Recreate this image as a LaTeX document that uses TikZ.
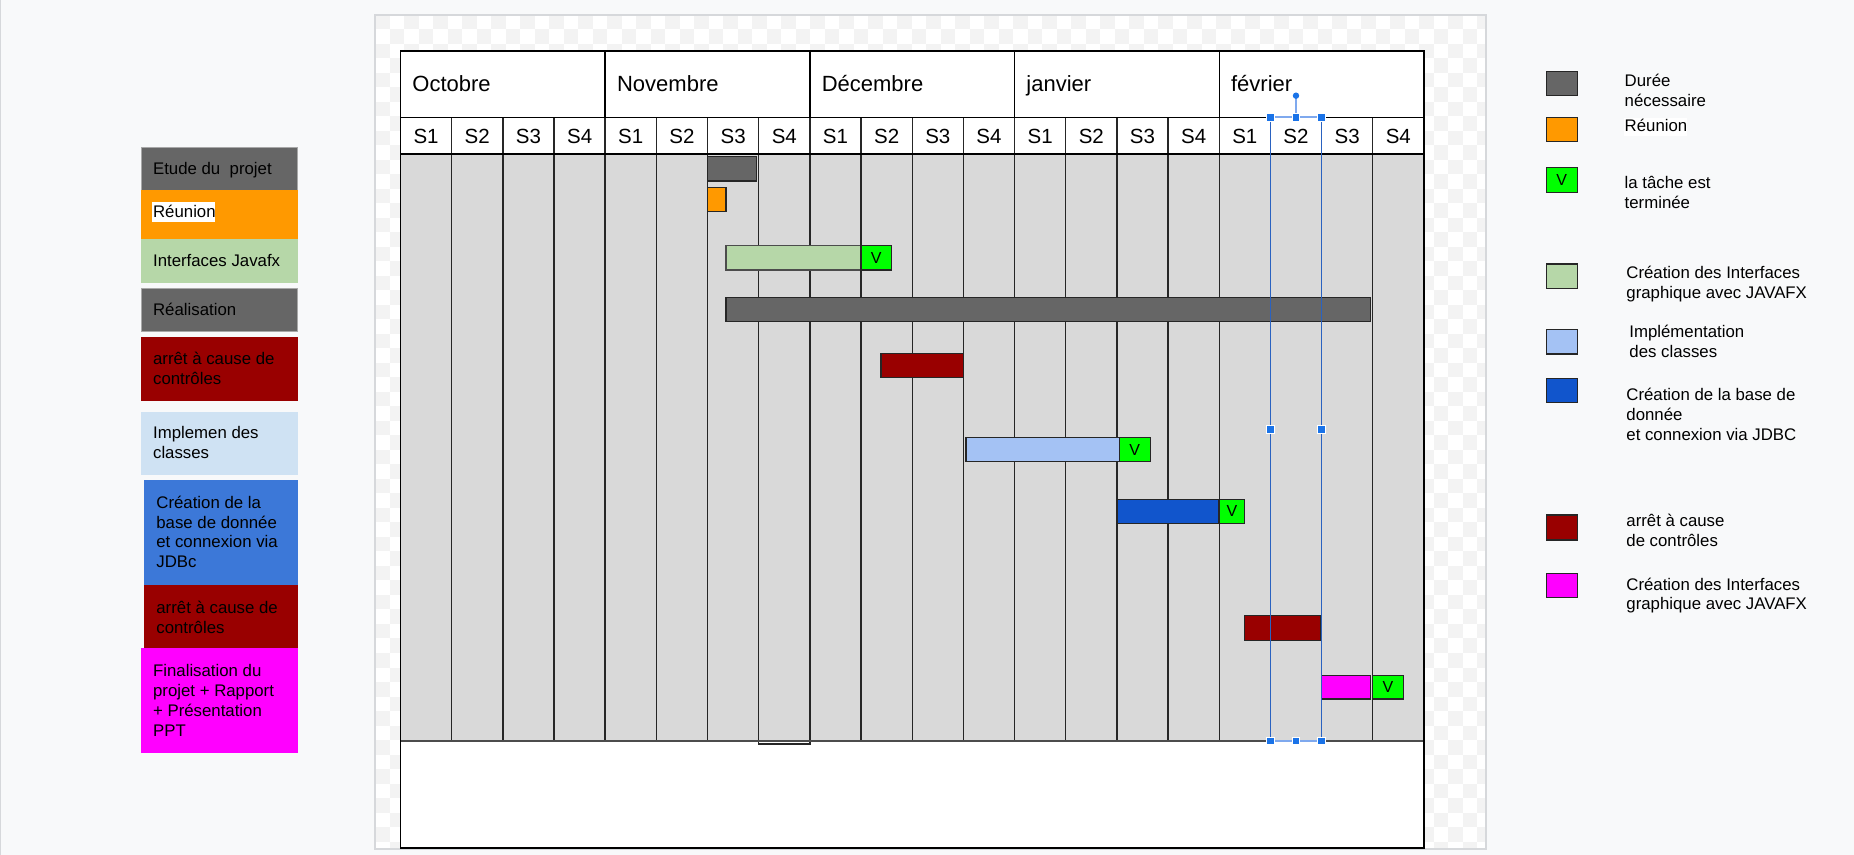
\documentclass[tikz,border=0pt]{standalone}
\usepackage{fontspec}
\setmainfont{Liberation Sans}
\definecolor{bgc}{HTML}{F8F9FA}
\definecolor{checkc}{HTML}{F3F3F3}
\definecolor{panelc}{HTML}{D6D8DB}
\definecolor{cellgray}{HTML}{D9D9D9}
\definecolor{dgray}{HTML}{666666}
\definecolor{orangec}{HTML}{FF9900}
\definecolor{lgreen}{HTML}{B6D7A8}
\definecolor{dred}{HTML}{990000}
\definecolor{lblue}{HTML}{CFE2F3}
\definecolor{mblue}{HTML}{3C78D8}
\definecolor{barblue}{HTML}{A4C2F4}
\definecolor{dblue}{HTML}{1155CC}
\definecolor{magc}{HTML}{FF00FF}
\definecolor{vgreen}{HTML}{00FF00}
\definecolor{selc}{HTML}{1A73E8}
\definecolor{sellinec}{HTML}{2A62C0}
\definecolor{selbarc}{HTML}{7FA9EE}
\definecolor{boxedge}{HTML}{A8A8A8}
\tikzset{
  gridline/.style={draw=black!85, line width=0.7pt},
  hdrline/.style={draw=black, line width=0.7pt},
  barbox/.style={draw=black!85, line width=0.7pt},
  monthlbl/.style={anchor=base west, inner sep=0pt, font=\fontsize{11}{13}\selectfont},
  weeklbl/.style={anchor=base, inner sep=0pt, font=\fontsize{10.25}{12}\selectfont},
  legtxt/.style={anchor=base west, inner sep=0pt, font=\fontsize{8.4}{9.9}\selectfont},
  vlbl/.style={inner sep=0pt, font=\fontsize{8}{9}\selectfont},
  handle/.style={fill=selc, draw=white, line width=0.4pt},
  edgedbox/.style={draw=boxedge, line width=0.5pt},
}
\newcommand{\tl}[1]{\begin{tabular}[t]{@{}l@{}}#1\end{tabular}}
\begin{document}
\begin{tikzpicture}[x=0.5pt,y=-0.5pt]
\useasboundingbox (0,0) rectangle (1854,855);
\fill[bgc] (0,0) rectangle (1854,855);
\draw[panelc, line width=0.6pt] (0.6,0) -- (0.6,855);
% panel with checkerboard
\fill[white] (375,15) rectangle (1486,849);
\begin{scope}
\clip (375,15) rectangle (1486,849);
\foreach \r in {0,...,57}{
  \pgfmathsetmacro\ph{mod(\r,2)*7.25}
  \pgfmathsetmacro\yy{22.25+\r*14.5}
  \draw[checkc, line width=7.25pt, dash pattern=on 7.25pt off 7.25pt, dash phase=\ph pt] (375,\yy) -- (1486,\yy);
}
\end{scope}
\draw[panelc, line width=0.6pt] (375,15) rectangle (1486,849);

% table
\fill[white] (400.5,50.7) rectangle (1424,154);
\fill[cellgray] (400.5,154) rectangle (1424,741);
\fill[white] (400.5,741) rectangle (1424,848.3);
\foreach \k in {1,...,19}{
  \pgfmathsetmacro\xx{400.5+51.17*\k}
  \draw[gridline] (\xx,117.3) -- (\xx,741);
}
\draw[gridline] (758.7,154) rectangle (809.9,744);
\foreach \k in {4,8,12,16}{
  \pgfmathsetmacro\xx{400.5+51.17*\k}
  \draw[hdrline] (\xx,50.7) -- (\xx,117.3);
}
\draw[hdrline] (400.5,117.3) -- (1424,117.3);
\draw[hdrline] (400.5,154) -- (1424,154);
\draw[draw=black!70, line width=0.7pt] (400.5,741) -- (1424,741);
\draw[hdrline, line width=0.9pt] (400.5,50.7) rectangle (1424,848.3);

% month labels
\node[monthlbl] (m1) at (412,91.7) {Octobre};
\node[monthlbl] (m2) at (616.7,91.7) {Novembre};
\node[monthlbl] (m3) at (821.4,91.7) {Décembre};
\node[monthlbl] (m4) at (1026,91.7) {janvier};
\node[monthlbl] (m5) at (1230.7,91.7) {février};
% week labels
\foreach \k in {0,...,19}{
  \pgfmathsetmacro\xx{400.5+51.17*\k+25.6}
  \pgfmathtruncatemacro\w{mod(\k,4)+1}
  \node[weeklbl] (w\k) at (\xx,143.3) {S\w};
}

% bars
\draw[barbox, fill=dgray] (707.5,156.7) rectangle (756.7,181);
\draw[barbox, fill=orangec] (707.5,187.3) rectangle (725.9,211.3);
\draw[barbox, draw=black!70, fill=lgreen] (725.9,245.7) rectangle (861,270);
\draw[barbox, fill=vgreen] (861,245.7) rectangle (891.2,270);
\node[vlbl] (v1) at (876.1,257.9) {V};
\draw[barbox, fill=dgray] (725.9,297.3) rectangle (1370.7,321.7);
\draw[barbox, fill=dred] (881,353.3) rectangle (963.3,377.3);
\draw[barbox, fill=barblue] (966,437.3) rectangle (1119.3,461.7);
\draw[barbox, fill=vgreen] (1119.3,437.3) rectangle (1150.3,461.7);
\node[vlbl] (v2) at (1134.8,449.5) {V};
\draw[barbox, fill=dblue] (1117,499.3) rectangle (1219,523.3);
\draw[barbox, fill=vgreen] (1219,499.3) rectangle (1244.7,523.3);
\node[vlbl] (v3) at (1231.9,511.3) {V};
\draw[barbox, fill=dred] (1244.3,615.7) rectangle (1320.7,640.3);
\draw[barbox, fill=magc] (1321.7,675.3) rectangle (1370.7,699);
\draw[barbox, fill=vgreen] (1372.7,675.3) rectangle (1403.3,699);
\node[vlbl] (v4) at (1388,687.2) {V};

% selection overlay
\draw[sellinec, line width=0.8pt] (1270.4,117.3) -- (1270.4,741);
\draw[sellinec, line width=0.6pt] (1321.6,117.3) -- (1321.6,741);
\draw[selbarc, line width=1pt] (1270.4,117.3) -- (1321.6,117.3);
\draw[selbarc, line width=1pt] (1270.4,741) -- (1321.6,741);
\draw[selbarc, line width=0.6pt] (1296,95.7) -- (1296,117.3);
\fill[selc] (1296,95.7) circle (3.2);
\foreach \p in {(1270.4,117.3),(1296,117.3),(1321.6,117.3),(1270.4,429.3),(1321.6,429.3),(1270.4,741),(1296,741),(1321.6,741)}{
  \path[handle] \p ++(-3.8,-3.8) rectangle ++(7.6,7.6);
}

% left legend
\fill[dgray] (141,147.3) rectangle (297.7,190.3);
\draw[edgedbox] (141,147.3) rectangle (297.7,190.3);
\node[legtxt] (l1) at (152.7,175) {Etude du\ \ projet};
\fill[orangec] (141,190.3) rectangle (297.7,239.3);
\fill[white] (152.3,201.7) rectangle (215.3,221.7);
\node[legtxt] (l2) at (152.7,217.7) {Réunion};
\fill[lgreen] (141,239.3) rectangle (297.7,282.7);
\node[legtxt] (l3) at (152.7,266.7) {Interfaces Javafx};
\fill[dgray] (141,288.7) rectangle (297.7,331.7);
\draw[edgedbox] (141,288.7) rectangle (297.7,331.7);
\node[legtxt] (l4) at (152.7,315.7) {Réalisation};
\fill[dred] (141,337.3) rectangle (297.7,401);
\node[legtxt] (l5) at (152.7,365) {\tl{arrêt à cause de\\contrôles}};
\fill[lblue] (141,411.7) rectangle (297.7,475);
\node[legtxt] (l6) at (152.7,438.3) {\tl{Implemen des\\classes}};
\fill[mblue] (144.3,480) rectangle (297.7,585);
\node[legtxt] (l7) at (156,508.3) {\tl{Création de la\\base de donnée\\et connexion via\\JDBc}};
\fill[dred] (144.3,585) rectangle (297.7,648.3);
\node[legtxt] (l8) at (156,613.3) {\tl{arrêt à cause de\\contrôles}};
\fill[magc] (141,648.3) rectangle (297.7,753.3);
\node[legtxt] (l9) at (152.7,676.7) {\tl{Finalisation du\\projet + Rapport\\+ Présentation\\PPT}};

% right legend
\draw[barbox, fill=dgray] (1546.3,71.7) rectangle (1577.3,95.7);
\node[legtxt] (r1) at (1624.3,86.7) {\tl{Durée\\nécessaire}};
\draw[barbox, fill=orangec] (1546.3,117.3) rectangle (1577.3,141.7);
\fill[white] (1624,118.3) rectangle (1686.7,136);
\node[legtxt] (r2) at (1624.3,131.7) {Réunion};
\draw[barbox, fill=vgreen] (1546.3,167.3) rectangle (1577.3,192.3);
\node[vlbl] (rv) at (1561.8,179.8) {V};
\node[legtxt] (r3) at (1624.3,188.3) {\tl{la tâche est\\terminée}};
\draw[barbox, fill=lgreen] (1546.3,264) rectangle (1577.3,288.3);
\node[legtxt] (r4) at (1626,278.3) {\tl{Création des Interfaces\\graphique avec JAVAFX}};
\draw[barbox, fill=barblue] (1546.3,329.3) rectangle (1577.3,354);
\node[legtxt] (r5) at (1629,337.3) {\tl{Implémentation\\des classes}};
\draw[barbox, fill=dblue] (1546.3,378.3) rectangle (1577.3,402.7);
\node[legtxt] (r6) at (1626,400.7) {\tl{Création de la base de\\donnée\\et connexion via JDBC}};
\draw[barbox, fill=dred] (1546.3,515) rectangle (1577.3,540);
\node[legtxt] (r7) at (1626,526.7) {\tl{arrêt à cause\\de contrôles}};
\draw[barbox, fill=magc] (1546.3,573.3) rectangle (1577.3,597.7);
\node[legtxt] (r8) at (1626,590) {\tl{Création des Interfaces\\graphique avec JAVAFX}};
\end{tikzpicture}
\end{document}
